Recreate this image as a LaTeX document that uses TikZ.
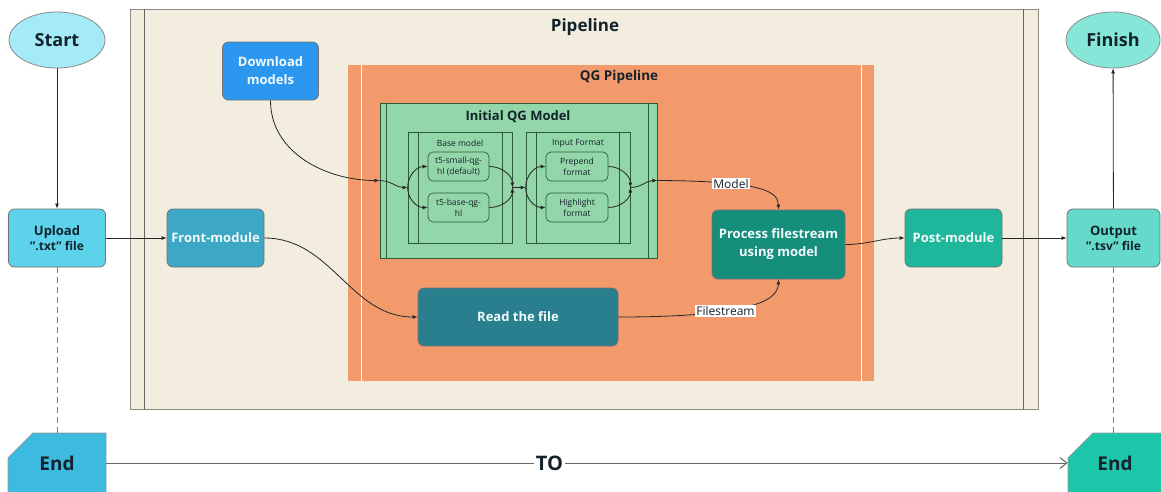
\documentclass[tikz,border=0pt]{standalone}
\usepackage{fontspec}
\setmainfont{Open Sans}
\usetikzlibrary{arrows.meta,shapes.geometric,shapes.misc}
\definecolor{txtdark}{HTML}{14222B}
\definecolor{pipebg}{HTML}{F2EDDF}
\definecolor{pipeborder}{HTML}{8E8C80}
\definecolor{qgorange}{HTML}{F39A6D}
\definecolor{qggreen}{HTML}{92D6A9}
\definecolor{grnborder}{HTML}{2E5B3C}
\definecolor{cstart}{HTML}{A4EAF7}
\definecolor{cupload}{HTML}{5CD3EB}
\definecolor{cfront}{HTML}{3CA8C6}
\definecolor{cdl}{HTML}{2C97EF}
\definecolor{cread}{HTML}{2A7F8F}
\definecolor{cproc}{HTML}{168E7C}
\definecolor{cpost}{HTML}{1FB79B}
\definecolor{coutput}{HTML}{66DACA}
\definecolor{cfinish}{HTML}{86E6D8}
\definecolor{cendl}{HTML}{3CBADF}
\definecolor{cendr}{HTML}{1CC6A8}
\definecolor{softwhite}{HTML}{F2FAFB}
\tikzset{
  conn/.style={draw=black!85, line width=0.8pt, -{Latex[length=5pt,width=4pt]}},
  plainline/.style={draw=black!60, line width=0.9pt},
  dashline/.style={draw=black!50, line width=0.9pt, dash pattern=on 6pt off 4pt},
  rbox/.style={rounded corners=6pt, draw=black!55, line width=0.8pt, inner sep=2pt, align=center,
    font=\fontsize{13}{18}\selectfont\bfseries},
  oval/.style={ellipse, draw=black!45, line width=0.8pt, inner sep=0pt, text=txtdark,
    font=\fontsize{18}{20}\selectfont\bfseries, minimum width=96pt, minimum height=56pt},
  endbox/.style={chamfered rectangle, chamfered rectangle corners=north west,
    chamfered rectangle xsep=21pt, chamfered rectangle ysep=20pt, inner sep=0pt,
    draw=black!40, line width=0.8pt, text=txtdark, font=\fontsize{19}{21}\selectfont\bfseries},
  sm/.style={rounded corners=5pt, draw=grnborder, fill=qggreen, line width=0.7pt, align=center,
    font=\fontsize{8.5}{11}\selectfont, minimum width=61pt, minimum height=29pt, inner sep=1pt, text=txtdark},
  subframe/.style={draw=grnborder, fill=qggreen, line width=0.8pt, inner sep=0pt,
    minimum width=104pt, minimum height=111pt},
  lbl/.style={fill=white, inner sep=1pt, font=\fontsize{12}{13}\selectfont, text=txtdark},
  ttl/.style={text=txtdark, font=\bfseries},
}
\begin{document}
\begin{tikzpicture}[x=1pt,y=-1pt]
\useasboundingbox (0,0) rectangle (1161,491);
\clip (0,0) rectangle (1161,491);

% Pipeline container
\node[draw=pipeborder, fill=pipebg, line width=1pt, minimum width=908pt, minimum height=400pt, inner sep=0pt] (pipe) at (584,209) {};
\draw[draw=black!60, line width=0.9pt] ([xshift=15pt]pipe.north west) -- ([xshift=15pt]pipe.south west);
\draw[draw=black!60, line width=0.9pt] ([xshift=-15pt]pipe.north east) -- ([xshift=-15pt]pipe.south east);
\node[ttl, font=\fontsize{17}{19}\selectfont\bfseries] (pipetitle) at (585,27) {Pipeline};

% QG Pipeline container
\node[fill=qgorange, minimum width=526pt, minimum height=316pt, inner sep=0pt] (qg) at (611,223) {};
\draw[white, line width=1.3pt] ([xshift=14pt]qg.north west) -- ([xshift=14pt]qg.south west);
\draw[white, line width=1.3pt] ([xshift=-13pt]qg.north east) -- ([xshift=-13pt]qg.south east);
\node[ttl, font=\fontsize{13.5}{15}\selectfont\bfseries] (qgtitle) at (619,77) {QG Pipeline};

% Initial QG Model container
\node[draw=grnborder, fill=qggreen, line width=0.9pt, minimum width=277pt, minimum height=155pt, inner sep=0pt] (green) at (518.5,180.5) {};
\draw[grnborder, line width=0.9pt] ([xshift=7pt]green.north west) -- ([xshift=7pt]green.south west);
\draw[grnborder, line width=0.9pt] ([xshift=-9pt]green.north east) -- ([xshift=-9pt]green.south east);
\node[ttl, font=\fontsize{13}{15}\selectfont\bfseries] (greentitle) at (518,117) {Initial QG Model};

% Base model / Input Format frames
\node[subframe] (basebox) at (460,187.5) {};
\draw[grnborder, line width=0.8pt] ([xshift=11pt]basebox.north west) -- ([xshift=11pt]basebox.south west);
\draw[grnborder, line width=0.8pt] ([xshift=-10pt]basebox.north east) -- ([xshift=-10pt]basebox.south east);
\node[text=txtdark, font=\fontsize{8.5}{10}\selectfont] (basetitle) at (460,143) {Base model};

\node[subframe] (inbox) at (578,187.5) {};
\draw[grnborder, line width=0.8pt] ([xshift=11pt]inbox.north west) -- ([xshift=11pt]inbox.south west);
\draw[grnborder, line width=0.8pt] ([xshift=-11pt]inbox.north east) -- ([xshift=-11pt]inbox.south east);
\node[text=txtdark, font=\fontsize{8.5}{10}\selectfont] (intitle) at (578,143) {Input Format};

\node[sm] (t5s) at (458.5,166.5) {t5-small-qg-\\hl (default)};
\node[sm] (t5b) at (458.5,207.5) {t5-base-qg-\\hl};
\node[sm, minimum width=62pt] (pre) at (577,166.5) {Prepend\\format};
\node[sm, minimum width=62pt] (hl) at (577,207.5) {Highlight\\format};

% Outer nodes
\node[oval, fill=cstart] (start) at (57,40) {Start};
\node[oval, fill=cfinish, minimum width=94pt] (finish) at (1113,40) {Finish};
\node[rbox, fill=cupload, text=txtdark, minimum width=97pt, minimum height=58pt] (upload) at (57,238) {Upload\\[-3pt]{\fontsize{12}{14}\selectfont ".txt" file}};
\node[rbox, fill=coutput, text=txtdark, minimum width=93pt, minimum height=58pt] (output) at (1113.5,238) {Output\\[-3pt]{\fontsize{12}{14}\selectfont ".tsv" file}};
\node[rbox, fill=cfront, text=softwhite, minimum width=97pt, minimum height=58pt] (front) at (215.5,238) {Front-module};
\node[rbox, fill=cdl, text=softwhite, minimum width=96pt, minimum height=58pt] (dl) at (270.5,71) {Download\\models};
\node[rbox, fill=cread, text=softwhite, minimum width=200pt, minimum height=58pt] (read) at (518,317) {Read the file};
\node[rbox, fill=cproc, text=softwhite, minimum width=133pt, minimum height=69pt] (proc) at (778.5,244.5) {Process filestream\\using model};
\node[rbox, fill=cpost, text=softwhite, minimum width=97pt, minimum height=58pt] (post) at (953.5,238) {Post-module};

\node[endbox, fill=cendl, minimum width=98pt, minimum height=60pt] (endl) at (57,463) {End};
\node[endbox, fill=cendr, minimum width=94pt, minimum height=60pt] (endr) at (1115,463) {End};

% Connectors
\draw[conn] (start) -- (upload);
\draw[conn] (upload) -- (front);
\draw[conn] (dl.south) to[out=-90,in=180] (green.west);
\draw[conn] (green.west) to[out=0,in=180] (basebox.west);
\draw[conn] (basebox.west) to[out=90,in=180] (t5s.west);
\draw[conn] (basebox.west) to[out=-90,in=180] (t5b.west);
\draw[conn] (t5s.east) to[out=0,in=90] (basebox.east);
\draw[conn] (t5b.east) to[out=0,in=-90] (basebox.east);
\draw[conn] (basebox.east) -- (inbox.west);
\draw[conn] (inbox.west) to[out=90,in=180] (pre.west);
\draw[conn] (inbox.west) to[out=-90,in=180] (hl.west);
\draw[conn] (pre.east) to[out=0,in=90] (inbox.east);
\draw[conn] (hl.east) to[out=0,in=-90] (inbox.east);
\draw[conn] (inbox.east) to[out=0,in=180] (green.east);
\draw[conn] (green.east) .. controls (765,181) and (778,192) .. node[lbl, pos=0.3] (modellbl) {Model} (proc.north);
\draw[conn] (front.east) to[out=0,in=180] (read.west);
\draw[conn] (read.east) .. controls (745,317) and (778,302) .. node[lbl, pos=0.38] (fslbl) {Filestream} (proc.south);
\draw[conn] (proc.east) to[out=0,in=180] (post.west);
\draw[conn] (post) -- (output);
\draw[conn] (output) -- (finish);
\draw[dashline] (upload.south) -- (endl.north -| upload.south);
\draw[dashline] (output.south) -- (endr.north -| output.south);
\draw[plainline, -{Straight Barb[length=7pt,width=11pt,line width=1pt]}] (endl.east) -- node[pos=0.461, fill=white, inner sep=2pt, text=txtdark, font=\fontsize{20}{22}\selectfont\bfseries] (tolbl) {TO} (endr.west);
\end{tikzpicture}
\end{document}
